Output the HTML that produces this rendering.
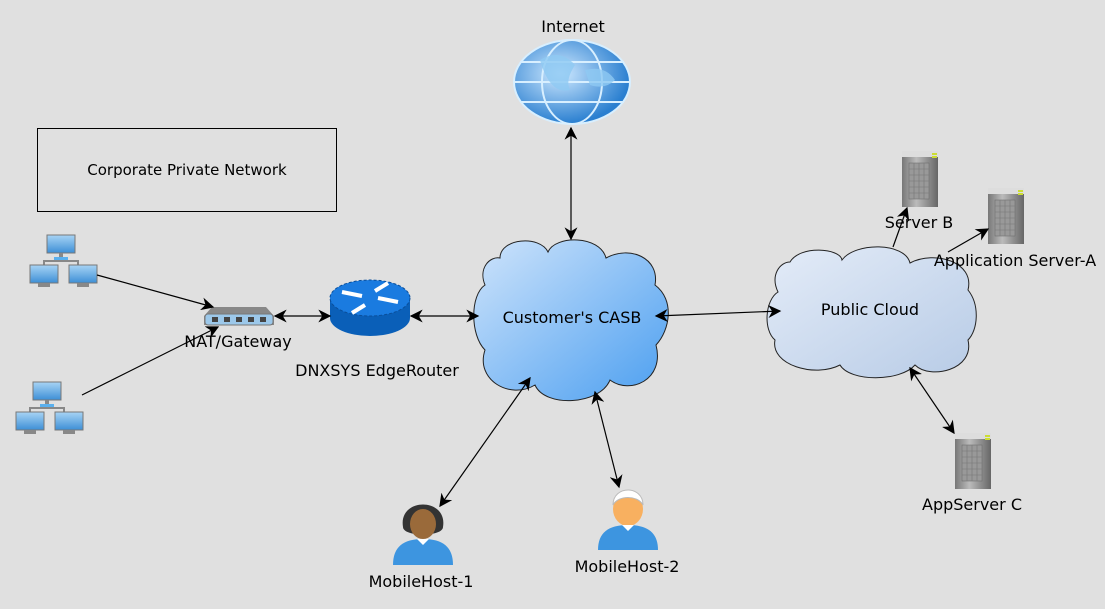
<!DOCTYPE html>
<html><head><style>
html,body{margin:0;padding:0;background:#e0e0e0;}
svg{display:block;font-family:"DejaVu Sans","Liberation Sans",sans-serif;}
</style></head><body>
<svg width="1105" height="609" viewBox="0 0 1105 609" xmlns="http://www.w3.org/2000/svg">
<defs>
<marker id="a" viewBox="0 0 10 10" refX="9" refY="5" markerWidth="13" markerHeight="13" orient="auto-start-reverse" markerUnits="userSpaceOnUse"><path d="M0,0 L10,5 L0,10 L3,5 z" fill="#000"/></marker>
<linearGradient id="cb" x1="0" y1="0" x2="1" y2="1"><stop offset="0" stop-color="#cfe4fb"/><stop offset="1" stop-color="#4a9ef0"/></linearGradient>
<linearGradient id="cp" x1="0" y1="0" x2="1" y2="1"><stop offset="0" stop-color="#e4ecf8"/><stop offset="1" stop-color="#b7cbe6"/></linearGradient>
<linearGradient id="sv" x1="0" y1="0" x2="1" y2="0"><stop offset="0" stop-color="#777"/><stop offset="0.4" stop-color="#bbb"/><stop offset="1" stop-color="#666"/></linearGradient>
<linearGradient id="mon" x1="0" y1="0" x2="0" y2="1"><stop offset="0" stop-color="#a8d4f5"/><stop offset="1" stop-color="#3d8fd6"/></linearGradient>
<radialGradient id="gl" cx="0.4" cy="0.4" r="0.6"><stop offset="0" stop-color="#cfe9ff"/><stop offset="1" stop-color="#2a7fd0"/></radialGradient>
<g id="srv"><rect x="0" y="0" width="36" height="56" fill="url(#sv)"/><rect x="0" y="0" width="36" height="6" fill="#ddd"/><rect x="30" y="2" width="5" height="2" fill="#cd3"/><rect x="30" y="5" width="5" height="2" fill="#cd3"/><rect x="7" y="12" width="20" height="36" fill="#999" stroke="#666" stroke-width="0.5"/><path d="M7,18H27M7,24H27M7,30H27M7,36H27M7,42H27M12,12V48M17,12V48M22,12V48" stroke="#777" stroke-width="0.6"/></g>
<g id="net"><rect x="17" y="0" width="28" height="18" fill="url(#mon)" stroke="#777"/><rect x="29" y="18" width="4" height="5" fill="#888"/><rect x="24" y="22" width="14" height="3" fill="#5ab0ee"/><path d="M14,30V26H48V30" stroke="#888" fill="none" stroke-width="2"/><rect x="0" y="30" width="28" height="18" fill="url(#mon)" stroke="#777"/><rect x="39" y="30" width="28" height="18" fill="url(#mon)" stroke="#777"/><rect x="8" y="48" width="12" height="4" fill="#888"/><rect x="47" y="48" width="12" height="4" fill="#888"/></g>
</defs>

<rect x="37.5" y="128.5" width="299" height="83" fill="none" stroke="#000"/>
<text x="187" y="175" font-size="15" text-anchor="middle">Corporate Private Network</text>

<ellipse cx="572" cy="82" rx="58" ry="42" fill="url(#gl)"/>
<g fill="none" stroke="#d8efff" stroke-width="2"><ellipse cx="572" cy="82" rx="58" ry="42"/><ellipse cx="572" cy="82" rx="30" ry="42"/><path d="M514,82H630M520,62H624M520,102H624"/></g>
<path d="M540,60q20,-12 35,5q-10,15 -5,25q-20,5 -30,-30z M585,70q20,-5 30,10q-10,10 -25,5z" fill="#8fc9f2" opacity="0.8"/>
<text x="573" y="32" font-size="16" text-anchor="middle">Internet</text>

<use href="#net" x="30" y="235"/>
<use href="#net" x="16" y="382"/>

<path d="M212,307 L266,307 L274,316 L274,325 L204,325 L204,316 z" fill="#888"/>
<rect x="205" y="314" width="68" height="11" rx="3" fill="#9cc8ea" stroke="#777"/>
<g fill="#444"><rect x="212" y="317" width="6" height="5"/><rect x="224" y="317" width="6" height="5"/><rect x="236" y="317" width="6" height="5"/><rect x="248" y="317" width="6" height="5"/><rect x="260" y="317" width="6" height="5"/></g>
<text x="238" y="347" font-size="16" text-anchor="middle">NAT/Gateway</text>

<path d="M330,298 L330,318 A40,18 0 0 0 410,318 L410,298 z" fill="#0a5fb8"/>
<ellipse cx="370" cy="298" rx="40" ry="18" fill="#1a7be0" stroke="#0a4e9a" stroke-dasharray="3,2"/>
<g stroke="#fff" stroke-width="4"><path d="M342,292L362,296M398,302L378,298M365,305L352,313M375,291L388,283"/></g>
<text x="377" y="376" font-size="16" text-anchor="middle">DNXSYS EdgeRouter</text>

<path d="M500,258 C500,238 540,235 548,252 C555,235 600,235 606,258 C630,245 660,258 655,285 C675,300 670,330 656,345 C665,380 630,395 610,380 C600,405 545,408 535,385 C510,400 475,380 485,350 C470,335 470,295 485,285 C478,268 490,256 500,258z" fill="url(#cb)" stroke="#222"/>
<text x="572" y="323" font-size="16" text-anchor="middle">Customer's CASB</text>

<path d="M790,262 C800,245 840,248 842,260 C855,242 905,242 910,263 C935,250 975,262 968,290 C980,305 978,330 968,340 C975,370 930,380 915,365 C900,382 850,382 840,365 C815,378 770,365 775,340 C763,330 765,300 778,292 C770,275 780,262 790,262z" fill="url(#cp)" stroke="#222"/>
<text x="870" y="315" font-size="16" text-anchor="middle">Public Cloud</text>

<use href="#srv" x="902" y="151"/>
<use href="#srv" x="988" y="188"/>
<use href="#srv" x="955" y="433"/>
<text x="919" y="228" font-size="16" text-anchor="middle">Server B</text>
<text x="1015" y="266" font-size="16" text-anchor="middle">Application Server-A</text>
<text x="972" y="510" font-size="16" text-anchor="middle">AppServer C</text>

<g transform="translate(393,497)"><path d="M0,68 C0,50 10,42 30,42 C50,42 60,50 60,68z" fill="#3d95e0"/><path d="M10,30 C5,0 55,0 50,30 C50,40 10,40 10,30z" fill="#333"/><ellipse cx="30" cy="27" rx="13" ry="15" fill="#9a6a3a"/><path d="M24,42L30,48L36,42" fill="#fff"/></g>
<text x="421" y="587" font-size="16" text-anchor="middle">MobileHost-1</text>
<g transform="translate(598,485)"><path d="M0,65 C0,48 10,40 30,40 C50,40 60,48 60,65z" fill="#3d95e0"/><ellipse cx="30" cy="24" rx="15" ry="17" fill="#f8b060"/><path d="M15,20 C15,0 45,0 45,20 C40,10 20,10 15,20z" fill="#fff" stroke="#bbb"/><path d="M24,40L30,46L36,40" fill="#fff"/></g>
<text x="627" y="572" font-size="16" text-anchor="middle">MobileHost-2</text>

<g stroke="#000" stroke-width="1.2" fill="none">
<line x1="571" y1="128" x2="571" y2="239" marker-start="url(#a)" marker-end="url(#a)"/>
<line x1="275" y1="316" x2="330" y2="316" marker-start="url(#a)" marker-end="url(#a)"/>
<line x1="411" y1="316" x2="478" y2="316" marker-start="url(#a)" marker-end="url(#a)"/>
<line x1="656" y1="316" x2="780" y2="311" marker-start="url(#a)" marker-end="url(#a)"/>
<line x1="530" y1="378" x2="440" y2="506" marker-start="url(#a)" marker-end="url(#a)"/>
<line x1="595" y1="392" x2="619" y2="487" marker-start="url(#a)" marker-end="url(#a)"/>
<line x1="910" y1="368" x2="954" y2="433" marker-start="url(#a)" marker-end="url(#a)"/>
<line x1="893" y1="247" x2="907" y2="208" marker-end="url(#a)"/>
<line x1="948" y1="252" x2="988" y2="229" marker-end="url(#a)"/>
<line x1="97" y1="275" x2="213" y2="307" marker-end="url(#a)"/>
<line x1="82" y1="395" x2="218" y2="327" marker-end="url(#a)"/>
</g>
</svg>
</body></html>
